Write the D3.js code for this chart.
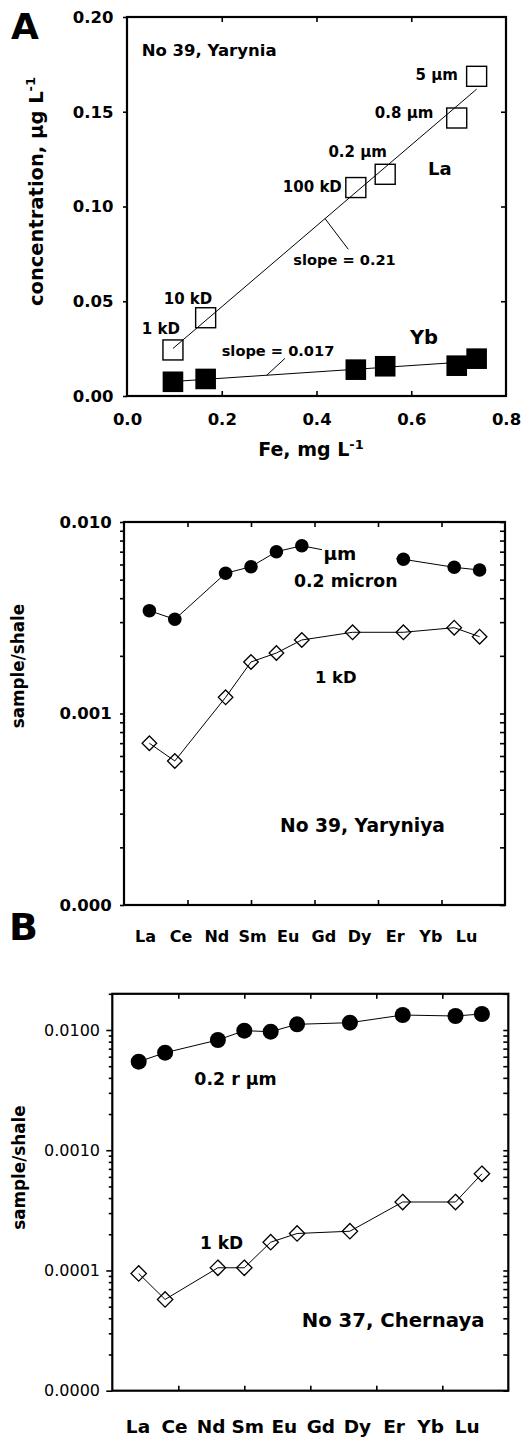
<!DOCTYPE html>
<html>
<head>
<meta charset="utf-8">
<script src="https://cdn.jsdelivr.net/npm/d3@7"></script>
<style>
  body { margin: 0; background: #fff; }
  svg text { font-family: "DejaVu Sans", Verdana, sans-serif; fill: #000; }
</style>
</head>
<body>
<svg id="fig" width="523" height="1437"></svg>
<script>
// ---------- Panel A: La and Yb vs Fe in size fractions, No 39 Yarynia ----------
const fractions = ["1 kD", "10 kD", "100 kD", "0.2 µm", "0.8 µm", "5 µm"];
const feValues  = [0.097, 0.166, 0.483, 0.545, 0.696, 0.738];   // mg/L
const laValues  = [0.0243, 0.0413, 0.110, 0.117, 0.1467, 0.1687]; // µg/L
const ybValues  = [0.0075, 0.0090, 0.0139, 0.0157, 0.0160, 0.0197]; // µg/L
const feTicks   = [0, 0.2, 0.4, 0.6, 0.8];
const concTicks = [0, 0.05, 0.10, 0.15, 0.20];

// ---------- Panel B: shale-normalised REE patterns ----------
// full lanthanide row (Pm omitted) sets the spacing along the x axis
const reeRow      = ["La","Ce","Pr","Nd","Sm","Eu","Gd","Tb","Dy","Ho","Er","Tm","Yb","Lu"];
const reeMeasured = ["La","Ce","Nd","Sm","Eu","Gd","Dy","Er","Yb","Lu"];
const reeLabels   = ["La","Ce","Nd","Sm","Eu","Gd","Dy","Er","Yb","Lu"];

// No 39, Yaryniya
const yar02um = [0.003443, 0.003104, 0.005396, 0.005843, 0.006998, 0.007515, 0.00667, 0.006386, 0.0058, 0.005615];
const yar1kD  = [0.000699, 0.000565, 0.001215, 0.001858, 0.00207, 0.00242, 0.002655, 0.002655, 0.002806, 0.002518];
// No 37, Chernaya
const che02um = [0.005449, 0.006475, 0.008257, 0.00987, 0.00968, 0.01115, 0.0115, 0.01332, 0.01307, 0.01359];
const che1kD  = [0.0000944, 0.0000574, 0.0001053, 0.0001053, 0.0001719, 0.000203, 0.000212, 0.000371, 0.000371, 0.000637];

const svg = d3.select("#fig");

// ---------- helpers ----------
function frame(g, x0, x1, y0, y1) {
  g.append("rect")
    .attr("x", x0).attr("y", y0)
    .attr("width", x1 - x0).attr("height", y1 - y0)
    .attr("fill", "none").attr("stroke", "#000").attr("stroke-width", 2.2);
}
function styleAxis(sel, size, weight) {
  sel.select(".domain").remove();
  sel.selectAll(".tick line").attr("stroke", "#000").attr("stroke-width", 1.6);
  sel.selectAll(".tick text")
    .attr("font-family", '"DejaVu Sans", Verdana, sans-serif')
    .attr("font-size", size).attr("font-weight", weight).attr("fill", "#000");
  sel.attr("font-family", null).attr("font-size", null);
}
function label(g, x, y, txt, size, anchor, weight) {
  return g.append("text").attr("x", x).attr("y", y)
    .attr("font-size", size).attr("font-weight", weight || "bold")
    .attr("text-anchor", anchor || "start").text(txt);
}
function minorLog(lo, hi) {
  const out = [];
  for (let e = Math.floor(Math.log10(lo)); e <= Math.ceil(Math.log10(hi)); e++) {
    for (let m = 1; m <= 9; m++) {
      const v = m * Math.pow(10, e);
      if (v >= lo * 0.999 && v <= hi * 1.001) out.push(v);
    }
  }
  return out;
}
function diamondPath(s) { return `M0,${-s}L${s},0L0,${s}L${-s},0Z`; }

// ===================== Panel A =====================
{
  const L = 127, R = 506, T = 17, B = 396;
  const x = d3.scaleLinear().domain([0, 0.8]).range([L, R]);
  const y = d3.scaleLinear().domain([0, 0.2]).range([B, T]);
  const g = svg.append("g");

  // axes: outward ticks on the left, inward ticks elsewhere
  g.append("g").attr("transform", `translate(${L},0)`)
    .call(d3.axisLeft(y).tickValues(concTicks).tickFormat(d3.format(".2f")).tickSize(4).tickPadding(9.5))
    .call(s => styleAxis(s, 16.5, "bold"));
  g.append("g").attr("transform", `translate(${R},0)`)
    .call(d3.axisRight(y).tickValues(concTicks.slice(1, -1)).tickFormat("").tickSize(-5))
    .call(s => styleAxis(s, 16.5, "bold"));
  g.append("g").attr("transform", `translate(0,${B})`)
    .call(d3.axisBottom(x).tickValues(feTicks).tickFormat(d3.format(".1f")).tickSize(-5).tickPadding(17.5))
    .call(s => styleAxis(s, 16.5, "bold"))
    .call(s => s.selectAll(".tick line").filter(d => d === 0 || d === 0.8).remove());
  g.append("g").attr("transform", `translate(0,${T})`)
    .call(d3.axisTop(x).tickValues(feTicks.slice(1, -1)).tickFormat("").tickSize(-5))
    .call(s => styleAxis(s, 16.5, "bold"));
  frame(g, L, R, T, B);

  // least-squares lines through each element
  function fit(xs, ys) {
    const mx = d3.mean(xs), my = d3.mean(ys);
    const sxy = d3.sum(xs, (v, i) => (v - mx) * (ys[i] - my));
    const sxx = d3.sum(xs, v => (v - mx) * (v - mx));
    const k = sxy / sxx;
    return { k, b: my - k * mx };
  }
  const laFit = fit(feValues, laValues);
  const ybFit = fit(feValues, ybValues);
  const feExt = d3.extent(feValues);
  const line = d3.line().x(d => x(d[0])).y(d => y(d[1]));
  [laFit, ybFit].forEach(f => {
    g.append("path")
      .attr("d", line(feExt.map(v => [v, f.k * v + f.b])))
      .attr("fill", "none").attr("stroke", "#000").attr("stroke-width", 1);
  });

  // Yb: filled squares
  g.selectAll("rect.yb").data(feValues).join("rect").attr("class", "yb")
    .attr("x", d => x(d) - 10.3).attr("y", (d, i) => y(ybValues[i]) - 10.3)
    .attr("width", 20.6).attr("height", 20.6).attr("fill", "#000");
  // La: open squares
  g.selectAll("rect.la").data(feValues).join("rect").attr("class", "la")
    .attr("x", d => x(d) - 10).attr("y", (d, i) => y(laValues[i]) - 10)
    .attr("width", 20).attr("height", 20)
    .attr("fill", "none").attr("stroke", "#000").attr("stroke-width", 1.4);

  // size-fraction labels beside the La points
  const fracOffset = [[7, -16, "end"], [6.6, -13.4, "end"], [-14, 4.4, "end"],
                      [1.7, -17, "end"], [-23.4, -0.5, "end"], [-18.7, 3.7, "end"]];
  fractions.forEach((f, i) => {
    label(g, x(feValues[i]) + fracOffset[i][0], y(laValues[i]) + fracOffset[i][1], f, 15, fracOffset[i][2]);
  });

  label(g, 141.7, 56, "No 39, Yarynia", 16.5);
  label(g, 428, 175, "La", 18);
  label(g, 410, 344.3, "Yb", 19.5);

  // slope annotations with leader lines to the fitted lines
  const laLead = 0.418, ybLead = 0.295;
  g.append("line").attr("x1", x(laLead)).attr("y1", y(laFit.k * laLead + laFit.b))
    .attr("x2", 348.3).attr("y2", 249.3).attr("stroke", "#000").attr("stroke-width", 1);
  g.append("line").attr("x1", x(ybLead)).attr("y1", y(ybFit.k * ybLead + ybFit.b))
    .attr("x2", 285).attr("y2", 358.3).attr("stroke", "#000").attr("stroke-width", 1);
  label(g, 293.3, 264.5, "slope = " + d3.format(".2f")(laFit.k), 14.6);
  label(g, 221.7, 356, "slope = " + d3.format(".3f")(ybFit.k), 14.6);

  // axis titles
  const yt = g.append("text").attr("transform", "translate(42.5,191.5) rotate(-90)")
    .attr("text-anchor", "middle").attr("font-size", 19.5).attr("font-weight", "bold");
  yt.append("tspan").text("concentration, µg L");
  yt.append("tspan").attr("dy", -7.5).attr("font-size", 13).text("-1");
  const xt = g.append("text").attr("x", 311).attr("y", 456)
    .attr("text-anchor", "middle").attr("font-size", 19).attr("font-weight", "bold");
  xt.append("tspan").text("Fe, mg L");
  xt.append("tspan").attr("dy", -7.5).attr("font-size", 13).text("-1");

  g.append("text").attr("x", 11).attr("y", 38.5)
    .attr("font-family", '"Liberation Sans", Arial, sans-serif')
    .attr("font-size", 36).attr("font-weight", "bold").text("A");
}

// ===================== REE pattern panel =====================
function reePanel(opt) {
  const { L, R, T, B, yDomain, fmt, tickFont, tickWeight, labRange, labFont, labPad,
          upper, lower, r, dsize, minorLen, majorLen } = opt;
  const g = svg.append("g");
  const x = d3.scaleLinear().domain([-1, reeRow.length]).range([L, R]);
  const y = d3.scaleLog().domain(yDomain).range([B, T]);
  const tickPos = d3.scaleLinear().domain([0, 6]).range([L, R]);
  const majors = minorLog(yDomain[0], yDomain[1]).filter(v => Math.abs(Math.log10(v) - Math.round(Math.log10(v))) < 1e-9);
  const minors = minorLog(yDomain[0], yDomain[1]).filter(v => !majors.includes(v));

  g.append("g").attr("transform", `translate(${L},0)`)
    .call(d3.axisLeft(y).tickValues(majors).tickFormat(d3.format(fmt)).tickSize(majorLen).tickPadding(12.3 - majorLen))
    .call(s => styleAxis(s, tickFont, tickWeight));
  g.append("g").attr("transform", `translate(${L},0)`)
    .call(d3.axisLeft(y).tickValues(minors).tickFormat("").tickSize(minorLen))
    .call(s => styleAxis(s, tickFont, tickWeight));
  g.append("g").attr("transform", `translate(${R},0)`)
    .call(d3.axisRight(y).tickValues(minors.concat(majors)).tickFormat("").tickSize(-5))
    .call(s => styleAxis(s, tickFont, tickWeight));
  [[B, d3.axisBottom], [T, d3.axisTop]].forEach(([pos, ax]) => {
    g.append("g").attr("transform", `translate(0,${pos})`)
      .call(ax(tickPos).tickValues([1, 2, 3, 4, 5]).tickFormat("").tickSize(-5))
      .call(s => styleAxis(s, tickFont, tickWeight));
  });
  // element names under the frame
  const lab = d3.scalePoint().domain(reeLabels).range(labRange);
  g.append("g").attr("transform", `translate(0,${B})`)
    .call(d3.axisBottom(lab).tickSize(0).tickPadding(labPad))
    .call(s => styleAxis(s, labFont, "bold"));
  frame(g, L, R, T, B);

  const px = d => x(reeRow.indexOf(d));
  const line = d3.line().x((d, i) => px(reeMeasured[i])).y(d => y(d));
  [upper, lower].forEach(vals => {
    g.append("path").attr("d", line(vals))
      .attr("fill", "none").attr("stroke", "#000").attr("stroke-width", 1);
  });
  g.selectAll("circle").data(upper).join("circle")
    .attr("cx", (d, i) => px(reeMeasured[i])).attr("cy", d => y(d)).attr("r", r).attr("fill", "#000");
  g.selectAll("path.dia").data(lower).join("path").attr("class", "dia")
    .attr("transform", (d, i) => `translate(${px(reeMeasured[i])},${y(d)})`)
    .attr("d", diamondPath(dsize))
    .attr("fill", "none").attr("stroke", "#000").attr("stroke-width", 1.3);
  return { g, x, y, px };
}

// ---- No 39, Yaryniya ----
{
  const p = reePanel({
    L: 124, R: 505, T: 522, B: 905, yDomain: [1e-4, 1e-2], fmt: ".3f",
    tickFont: 16.5, tickWeight: "bold", labRange: [145, 466], labFont: 16, labPad: 25.3,
    upper: yar02um, lower: yar1kD, r: 6.8, dsize: 7.3, minorLen: 4, majorLen: 4
  });
  // opaque label box over the Dy–Er stretch of the 0.2 µm curve
  const boxX0 = 322, boxX1 = p.px("Er") - 7.2;
  p.g.append("rect").attr("x", boxX0).attr("y", 538).attr("width", boxX1 - boxX0).attr("height", 30)
    .attr("fill", "#fff");
  label(p.g, 323.5, 560, "µm", 18.5);
  label(p.g, 294, 587, "0.2 micron", 17.3);
  label(p.g, 315, 682.7, "1 kD", 16.4);
  label(p.g, 280, 831.7, "No 39, Yaryniya", 18.7);
  p.g.append("text").attr("transform", "translate(23.5,666) rotate(-90)")
    .attr("text-anchor", "middle").attr("font-size", 16.8).attr("font-weight", "bold").text("sample/shale");
  p.g.append("text").attr("x", 9).attr("y", 940)
    .attr("font-family", '"Liberation Sans", Arial, sans-serif')
    .attr("font-size", 38).attr("font-weight", "bold").text("B");
}

// ---- No 37, Chernaya ----
{
  const p = reePanel({
    L: 112.3, R: 508.3, T: 993.8, B: 1390.7, yDomain: [1e-5, 0.02], fmt: ".4f",
    tickFont: 16, tickWeight: "normal", labRange: [137.5, 466.7], labFont: 18.5, labPad: 29.5,
    upper: che02um, lower: che1kD, r: 8, dsize: 7.7, minorLen: 3.5, majorLen: 6
  });
  label(p.g, 194.3, 1085, "0.2 r µm", 17.4);
  label(p.g, 200, 1249, "1 kD", 17);
  label(p.g, 301.7, 1327.3, "No 37, Chernaya", 19.7);
  p.g.append("text").attr("transform", "translate(24.5,1167.5) rotate(-90)")
    .attr("text-anchor", "middle").attr("font-size", 16.8).attr("font-weight", "bold").text("sample/shale");
}
</script>
</body>
</html>
